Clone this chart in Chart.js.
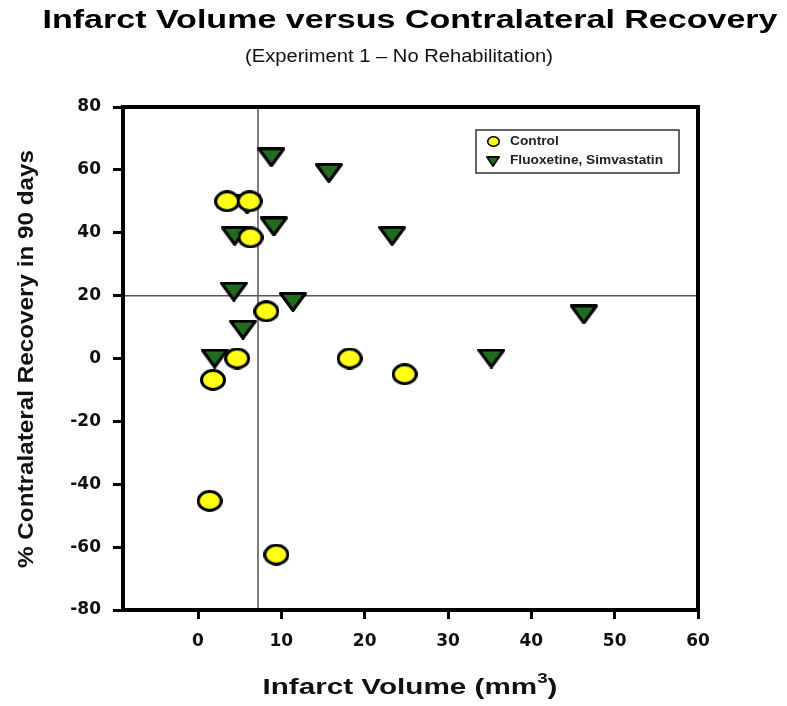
<!DOCTYPE html>
<html>
<head>
<meta charset="utf-8">
<script src="https://cdn.jsdelivr.net/npm/chart.js@4.4.1/dist/chart.umd.min.js"></script>
<style>
  html, body { margin: 0; padding: 0; background: #fff; }
  #wrap { width: 787px; height: 706px; position: relative; }
</style>
</head>
<body>
<div id="wrap"><canvas id="chart" width="787" height="706"></canvas></div>
<script>
/* ── Data ────────────────────────────────────────────────────────────── */
const CONTROL_X = [3.5, 6.2, 6.3, 8.2, 4.7, 1.8, 18.2, 24.8, 1.4, 9.4];
const CONTROL_Y = [50, 50, 38.5, 15, 0, -6.8, 0, -5, -45.3, -62.4];

const DRUG_X = [8.8, 15.7, 5.9, 9.1, 4.4, 23.3, 4.3, 11.4, 5.4, 2.0, 35.2, 46.3];
const DRUG_Y = [64, 59, 49, 42, 39, 39, 21.3, 18, 9.2, 0, 0, 14];

const X_TICKS = [0, 10, 20, 30, 40, 50, 60];
const Y_TICKS = [-80, -60, -40, -20, 0, 20, 40, 60, 80];

const X_RANGE = [-9, 60];
const Y_RANGE = [-80, 80];

const REF_X = 7.2;   // vertical reference line
const REF_Y = 20;    // horizontal reference line

const SERIES_NAMES = ['Control', 'Fluoxetine, Simvastatin'];

/* ── Styles ───────────────────────────────────────────────────────────── */
const YELLOW = '#ffff14';
const GREEN  = '#236b1f';
const FONT   = "'Liberation Sans', Arial, sans-serif";
const TICK_FONT = "'DejaVu Sans', sans-serif";

const pts = (xs, ys) => xs.map((x, i) => ({ x, y: ys[i] }));

/* ── Marker images (the source image is stretched sideways) ──────────── */
function ellipseMarker(w, h, lw) {
  const c = document.createElement('canvas');
  c.width = w; c.height = h;
  const g = c.getContext('2d');
  g.beginPath();
  g.ellipse(w / 2, h / 2, w / 2 - lw / 2, h / 2 - lw / 2, 0, 0, Math.PI * 2);
  g.fillStyle = YELLOW;
  g.fill();
  g.lineWidth = lw;
  g.strokeStyle = '#000';
  g.stroke();
  return c;
}

function triangleMarker(w, h, lw) {
  const c = document.createElement('canvas');
  c.width = w; c.height = h;
  const g = c.getContext('2d');
  g.beginPath();
  g.moveTo(lw / 2, lw / 2);
  g.lineTo(w - lw / 2, lw / 2);
  g.lineTo(w / 2, h - lw / 2);
  g.closePath();
  g.fillStyle = GREEN;
  g.fill();
  g.lineJoin = 'round';
  g.lineWidth = lw;
  g.strokeStyle = '#000';
  g.stroke();
  return c;
}

const CIRCLE_IMG = ellipseMarker(26, 22, 3);
const TRI_IMG    = triangleMarker(28, 20, 3);

/* Draw text stretched to a given width */
function stretchText(ctx, text, cx, cy, font, width) {
  ctx.font = font;
  const w = ctx.measureText(text).width;
  ctx.save();
  ctx.translate(cx, cy);
  ctx.scale(width / w, 1);
  ctx.textAlign = 'center';
  ctx.textBaseline = 'middle';
  ctx.fillText(text, 0, 0);
  ctx.restore();
}

/* ── Text, frame and legend drawn on top ──────────────────────────────── */
const decor = {
  id: 'decor',
  afterDraw(chart) {
    const { ctx, chartArea: a } = chart;
    ctx.save();

    // frame
    ctx.strokeStyle = '#000';
    ctx.lineWidth = 4;
    ctx.strokeRect(a.left, a.top, a.right - a.left, a.bottom - a.top);

    // titles
    ctx.fillStyle = '#000';
    stretchText(ctx, 'Infarct Volume versus Contralateral Recovery', 410, 21,
      `bold 25px ${FONT}`, 735);
    ctx.fillStyle = '#111';
    stretchText(ctx, '(Experiment 1 \u2013 No Rehabilitation)', 399, 57,
      `18px ${FONT}`, 308);

    // x axis title with superscript, stretched to reference width
    ctx.fillStyle = '#111';
    ctx.font = `bold 22px ${FONT}`;
    const main = 'Infarct Volume (mm';
    const wMain = ctx.measureText(main).width;
    const wEnd = ctx.measureText(')').width;
    ctx.font = `bold 14px ${FONT}`;
    const wSup = ctx.measureText('3').width;
    const total = wMain + wSup + wEnd;
    ctx.save();
    ctx.translate(410, 688);
    ctx.scale(295 / total, 1);
    ctx.textAlign = 'left';
    ctx.textBaseline = 'middle';
    const x0 = -total / 2;
    ctx.font = `bold 22px ${FONT}`;
    ctx.fillText(main, x0, 0);
    ctx.fillText(')', x0 + wMain + wSup, 0);
    ctx.font = `bold 14px ${FONT}`;
    ctx.fillText('3', x0 + wMain, -9);
    ctx.restore();

    // y axis title
    ctx.save();
    ctx.translate(27, 359);
    ctx.rotate(-Math.PI / 2);
    stretchText(ctx, '% Contralateral Recovery in 90 days', 0, 0,
      `bold 22px ${FONT}`, 418);
    ctx.restore();

    // legend
    const lx = 476, ly = 130, lw = 203, lh = 43;
    ctx.fillStyle = '#fff';
    ctx.fillRect(lx, ly, lw, lh);
    ctx.strokeStyle = '#333';
    ctx.lineWidth = 1.5;
    ctx.strokeRect(lx, ly, lw, lh);

    ctx.drawImage(CIRCLE_IMG, 487, 136, 13, 11);
    ctx.drawImage(TRI_IMG, 486, 156, 14, 11);

    ctx.fillStyle = '#222';
    ctx.font = `bold 12px ${FONT}`;
    const wLong = ctx.measureText(SERIES_NAMES[1]).width;
    const k = 153 / wLong;
    ctx.textAlign = 'left';
    ctx.textBaseline = 'middle';
    [[SERIES_NAMES[0], 142], [SERIES_NAMES[1], 161]].forEach(([t, y]) => {
      ctx.save();
      ctx.translate(510, y);
      ctx.scale(k, 1);
      ctx.fillText(t, 0, 0);
      ctx.restore();
    });

    ctx.restore();
  },
};

const tickFont = { family: TICK_FONT, size: 17, weight: 'bold' };

new Chart(document.getElementById('chart'), {
  type: 'scatter',
  data: {
    datasets: [
      {
        label: 'refX',
        type: 'line',
        data: [{ x: REF_X, y: Y_RANGE[0] }, { x: REF_X, y: Y_RANGE[1] }],
        borderColor: '#555',
        borderWidth: 1.5,
        pointRadius: 0,
        order: 3,
      },
      {
        label: 'refY',
        type: 'line',
        data: [{ x: X_RANGE[0], y: REF_Y }, { x: X_RANGE[1], y: REF_Y }],
        borderColor: '#555',
        borderWidth: 1.5,
        pointRadius: 0,
        order: 3,
      },
      {
        label: SERIES_NAMES[0],
        data: pts(CONTROL_X, CONTROL_Y),
        pointStyle: CIRCLE_IMG,
        pointRadius: 11,
        order: 1,
      },
      {
        label: SERIES_NAMES[1],
        data: pts(DRUG_X, DRUG_Y),
        pointStyle: TRI_IMG,
        pointRadius: 12,
        order: 2,
      },
    ],
  },
  options: {
    responsive: false,
    animation: false,
    layout: { padding: { top: 107, right: 89, left: 0, bottom: 0 } },
    plugins: {
      legend:  { display: false },
      title:   { display: false },
      tooltip: { enabled: false },
    },
    scales: {
      x: {
        type: 'linear',
        min: X_RANGE[0],
        max: X_RANGE[1],
        afterBuildTicks: s => { s.ticks = X_TICKS.map(v => ({ value: v })); },
        afterFit: s => { s.height = 96; },
        border: { display: false },
        grid: {
          drawOnChartArea: false,
          drawTicks: true,
          tickLength: 9,
          tickWidth: 3,
          tickColor: '#000',
        },
        ticks: { color: '#111', font: tickFont, padding: 12 },
      },
      y: {
        type: 'linear',
        min: Y_RANGE[0],
        max: Y_RANGE[1],
        afterBuildTicks: s => { s.ticks = Y_TICKS.map(v => ({ value: v })); },
        afterFit: s => { s.width = 123; },
        border: { display: false },
        grid: {
          drawOnChartArea: false,
          drawTicks: true,
          tickLength: 10,
          tickWidth: 3,
          tickColor: '#000',
        },
        ticks: { color: '#111', font: tickFont, padding: 12 },
      },
    },
  },
  plugins: [decor],
});
</script>
</body>
</html>
